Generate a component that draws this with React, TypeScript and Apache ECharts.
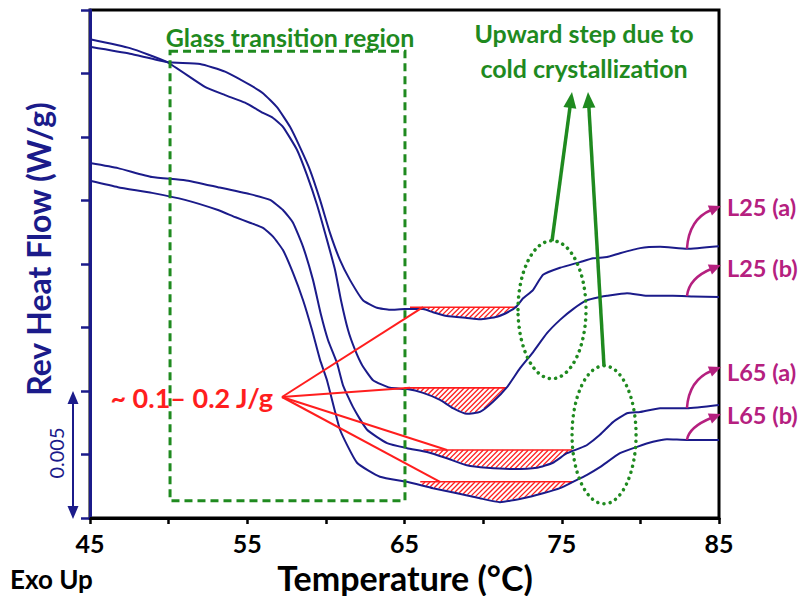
import React, { useEffect, useRef } from "react";
import * as echarts from "echarts";

const NAVY = "#1b1b8a";
const GREEN = "#1f8a1f";
const RED = "#ff1e1e";
const MAGENTA = "#b5207f";
const FONT = "Lato";

const xLabelTicks = [45, 55, 65, 75, 85];

// Curves: [temperature (°C), relative heat flow (axis units)]
const L25a = [[45.0,7.42],[47.54,7.31],[49.90,7.18],[52.0,7.15],[53.59,7.03],[55.17,6.82],[56.0,6.69],[56.89,6.47],[57.72,6.16],[58.35,5.84],[58.99,5.48],[59.63,5.01],[60.26,4.49],[60.90,4.06],[61.53,3.75],[62.36,3.43],[63.25,3.31],[64.08,3.28],[65.03,3.29],[66.18,3.29],[66.81,3.24],[67.70,3.18],[68.97,3.15],[69.80,3.13],[70.88,3.17],[71.71,3.26],[72.15,3.34],[72.54,3.46],[73.17,3.59],[73.81,3.83],[74.89,3.94],[76.16,4.03],[76.99,4.09],[77.88,4.11],[78.70,4.17],[79.98,4.25],[81.25,4.27],[82.96,4.24],[85.0,4.28]];
const L25b = [[45.0,7.54],[47.54,7.40],[49.90,7.18],[52.31,6.79],[53.59,6.66],[54.86,6.54],[56.0,6.38],[56.64,6.30],[57.27,6.16],[58.16,5.80],[58.80,5.40],[59.44,4.93],[60.07,4.38],[60.58,3.91],[60.96,3.43],[61.41,2.96],[61.85,2.65],[62.30,2.41],[63.0,2.17],[64.08,2.05],[65.16,2.03],[66.18,1.97],[67.26,1.86],[68.08,1.73],[68.97,1.64],[69.80,1.67],[70.63,1.83],[71.52,2.06],[72.35,2.36],[73.17,2.61],[74.06,2.91],[74.89,3.12],[75.72,3.29],[76.61,3.43],[77.43,3.48],[77.88,3.50],[79.15,3.54],[80.42,3.50],[82.07,3.50],[83.35,3.49],[85.0,3.48]];
const L65a = [[45.0,5.59],[46.78,5.51],[48.94,5.37],[51.04,5.32],[53.14,5.21],[55.17,5.10],[56.45,5.01],[57.27,4.85],[57.91,4.65],[58.55,4.27],[59.18,3.75],[59.69,3.20],[60.14,2.80],[60.71,2.44],[61.09,2.09],[61.72,1.75],[62.62,1.39],[63.89,1.18],[65.16,1.10],[66.43,1.04],[67.70,0.94],[68.97,0.83],[70.25,0.79],[71.90,0.77],[73.43,0.79],[74.44,0.87],[75.33,1.02],[76.16,1.10],[76.61,1.15],[77.43,1.31],[78.26,1.51],[79.15,1.65],[79.98,1.67],[81.25,1.73],[82.96,1.73],[85.0,1.78]];
const L65b = [[45.0,5.31],[46.78,5.21],[48.94,5.12],[51.04,5.01],[53.14,4.85],[54.22,4.74],[55.17,4.65],[56.0,4.57],[56.64,4.43],[57.27,4.22],[57.91,3.86],[58.55,3.43],[59.12,2.96],[59.63,2.49],[60.07,2.17],[60.90,1.39],[61.98,0.87],[63.44,0.65],[65.16,0.57],[66.81,0.47],[68.34,0.39],[69.80,0.31],[71.07,0.25],[72.54,0.31],[73.81,0.39],[74.89,0.47],[75.72,0.57],[76.61,0.68],[77.43,0.80],[78.70,1.02],[79.79,1.12],[80.80,1.20],[81.69,1.24],[82.96,1.23],[85.0,1.23]];

const curveNames = ["L25 (a)", "L25 (b)", "L65 (a)", "L65 (b)"];
const curveData = [L25a, L25b, L65a, L65b];

// Hatched (enthalpy) regions: baseline level, temperature span, pointer temperature
const hatchCurve = [0, 1, 2, 3];
const hatchBase = [3.32, 2.05, 1.07, 0.57];
const hatchFrom = [65.35, 65.0, 66.2, 66.0];
const hatchTo = [72.15, 71.45, 75.65, 75.72];
const hatchPointer = [66.18, 65.35, 67.7, 67.26];

const labelY = [207, 268, 372, 415];
const labelTipY = [206, 265, 367, 414];

function interp(curve: number[][], t: number) {
  for (let i = 0; i < curve.length - 1; i++) {
    const a = curve[i], b = curve[i + 1];
    if (t >= a[0] && t <= b[0]) {
      const f = (t - a[0]) / (b[0] - a[0]);
      return a[1] + f * (b[1] - a[1]);
    }
  }
  return curve[curve.length - 1][1];
}

function head(tx: number, ty: number, fx: number, fy: number, len: number, hw: number, color: string) {
  const dx = tx - fx, dy = ty - fy;
  const d = Math.hypot(dx, dy);
  const ux = dx / d, uy = dy / d;
  const bx = tx - ux * len, by = ty - uy * len;
  return {
    type: "polygon",
    z: 20,
    shape: { points: [[tx, ty], [bx - uy * hw, by + ux * hw], [bx + uy * hw, by - ux * hw]] },
    style: { fill: color },
  };
}

function text(x: number, y: number, s: string, size: number, color: string, align = "center", weight = "bold", rotation = 0) {
  return {
    type: "text",
    x,
    y,
    rotation,
    z: 20,
    style: {
      text: s,
      fill: color,
      fontSize: size,
      fontWeight: weight,
      fontFamily: FONT,
      align,
      textAlign: align,
      verticalAlign: "middle",
      textVerticalAlign: "middle",
    },
  };
}

function renderHatch(params: any, api: any) {
  const i = params.dataIndex;
  const curve = curveData[hatchCurve[i]];
  const pts = curve.map((p) => api.coord(p));
  const s = api.coord([hatchFrom[i], hatchBase[i]]);
  const e = api.coord([hatchTo[i], hatchBase[i]]);
  const x1 = s[0], x2 = e[0], by = s[1];
  const yAt = (x: number) => {
    for (let k = 0; k < pts.length - 1; k++) {
      const a = pts[k], b = pts[k + 1];
      if (x >= a[0] && x <= b[0]) return a[1] + ((x - a[0]) / (b[0] - a[0])) * (b[1] - a[1]);
    }
    return pts[pts.length - 1][1];
  };
  let maxY = by;
  for (let x = x1; x <= x2; x += 0.5) maxY = Math.max(maxY, yAt(x));
  const children: any[] = [];
  const step = 5;
  for (let c = x1 + by; c <= x2 + maxY; c += step) {
    let st: number[] | null = null;
    let last: number[] | null = null;
    for (let x = x1; x <= x2; x += 0.4) {
      const y = c - x;
      const inside = y >= by && y <= yAt(x) - 0.5;
      if (inside) {
        if (!st) st = [x, y];
        last = [x, y];
      } else if (st && last) {
        children.push({ type: "line", shape: { x1: st[0], y1: st[1], x2: last[0], y2: last[1] }, style: { stroke: RED, lineWidth: 1.3 } });
        st = null;
      }
    }
    if (st && last) children.push({ type: "line", shape: { x1: st[0], y1: st[1], x2: last[0], y2: last[1] }, style: { stroke: RED, lineWidth: 1.3 } });
  }
  children.push({ type: "line", shape: { x1, y1: by, x2, y2: by }, style: { stroke: RED, lineWidth: 1.6 } });
  return { type: "group", children };
}

const option: any = {
  animation: false,
  grid: { left: 90, right: 82, top: 10, bottom: 78, show: true, borderColor: "#000", borderWidth: 3 },
  xAxis: {
    type: "value",
    min: 45,
    max: 85,
    interval: 5,
    axisLine: { show: true, lineStyle: { color: "#000", width: 3 } },
    axisTick: { show: true, inside: false, length: 6, lineStyle: { color: "#000", width: 2.5 } },
    axisLabel: {
      formatter: (v: number) => (xLabelTicks.includes(v) ? String(v) : ""),
      color: "#000",
      fontSize: 25,
      fontWeight: "bold",
      fontFamily: FONT,
      margin: 12,
    },
    splitLine: { show: false },
  },
  yAxis: {
    type: "value",
    min: 0,
    max: 8,
    interval: 1,
    axisLine: { show: true, lineStyle: { color: NAVY, width: 3 } },
    axisTick: { show: true, inside: false, length: 9, lineStyle: { color: NAVY, width: 2.5 } },
    axisLabel: { show: false },
    splitLine: { show: false },
  },
  series: [
    ...curveData.map((d, i) => ({
      name: curveNames[i],
      type: "line",
      data: d,
      symbol: "none",
      showSymbol: false,
      smooth: 0.15,
      z: 3,
      lineStyle: { color: NAVY, width: 2 },
    })),
    {
      type: "custom",
      data: hatchFrom.map((f, i) => [f, hatchBase[i]]),
      renderItem: renderHatch,
      z: 2,
      silent: true,
    },
  ],
};

export default function App() {
  const ref = useRef<HTMLDivElement>(null);
  useEffect(() => {
    document.body.style.margin = "0";
    const chart = echarts.init(ref.current!, null, { renderer: "svg" });
    chart.setOption(option);
    const px = (t: number, v: number) => chart.convertToPixel({ gridIndex: 0 }, [t, v]) as number[];

    const g: any[] = [];
    // Green dashed glass-transition box
    const r1 = px(50.09, 7.35);
    const r2 = px(65.03, 0.27);
    g.push({
      type: "rect",
      z: 5,
      shape: { x: r1[0], y: r1[1], width: r2[0] - r1[0], height: r2[1] - r1[1] },
      style: { fill: "none", stroke: GREEN, lineWidth: 3, lineDash: [8, 5] },
    });
    g.push(text(290, 37, "Glass transition region", 25, GREEN));
    g.push(text(584, 33, "Upward step due to", 25, GREEN));
    g.push(text(584, 68, "cold crystallization", 25, GREEN));

    // Dotted ellipses
    const ell = [
      { c: px(74.38, 3.28), rx: 34, ry: 69 },
      { c: px(77.69, 1.31), rx: 32, ry: 69 },
    ];
    ell.forEach((e) =>
      g.push({
        type: "ellipse",
        z: 6,
        shape: { cx: e.c[0], cy: e.c[1], rx: e.rx, ry: e.ry },
        style: { fill: "none", stroke: GREEN, lineWidth: 3.5, lineDash: [0.1, 6.2], lineCap: "round" },
      })
    );
    // Green arrows
    const garrows = [
      { sx: 552, sy: 241, tx: 572, ty: 92 },
      { sx: 604, sy: 366, tx: 588, ty: 92 },
    ];
    garrows.forEach((a) => {
      const d = Math.hypot(a.tx - a.sx, a.ty - a.sy);
      const ex = a.tx - ((a.tx - a.sx) / d) * 12, ey = a.ty - ((a.ty - a.sy) / d) * 12;
      g.push({ type: "line", z: 20, shape: { x1: a.sx, y1: a.sy, x2: ex, y2: ey }, style: { stroke: GREEN, lineWidth: 3.5 } });
      g.push(head(a.tx, a.ty, a.sx, a.sy, 16, 6.5, GREEN));
    });

    // Red annotation
    const apex = [282, 397];
    hatchPointer.forEach((t, i) => {
      const p = px(t, hatchBase[i]);
      g.push({ type: "line", z: 8, shape: { x1: apex[0], y1: apex[1], x2: p[0], y2: p[1] }, style: { stroke: RED, lineWidth: 2 } });
    });
    g.push(text(273, 397, "~ 0.1\u2013 0.2 J/g", 27, RED, "right"));

    // Magenta curved arrows & labels
    curveData.forEach((c, i) => {
      const s = px(82.96, interp(c, 82.96));
      const tip = [721, labelTipY[i]];
      const cp = [s[0] + 2, tip[1] + 13];
      const d = Math.hypot(tip[0] - cp[0], tip[1] - cp[1]);
      const ex = tip[0] - ((tip[0] - cp[0]) / d) * 10, ey = tip[1] - ((tip[1] - cp[1]) / d) * 10;
      g.push({
        type: "bezierCurve",
        z: 20,
        shape: { x1: s[0], y1: s[1], x2: ex, y2: ey, cpx1: cp[0], cpy1: cp[1] },
        style: { stroke: MAGENTA, lineWidth: 2.5, fill: "none" },
      });
      g.push(head(tip[0], tip[1], cp[0], cp[1], 12, 5.5, MAGENTA));
      g.push(text(727, labelY[i], curveNames[i], 23.5, MAGENTA, "left"));
    });

    // Scale bar
    g.push({ type: "line", z: 20, shape: { x1: 73, y1: 402, x2: 73, y2: 508 }, style: { stroke: NAVY, lineWidth: 2 } });
    g.push(head(73, 391, 73, 450, 13, 5.5, NAVY));
    g.push(head(73, 519, 73, 450, 13, 5.5, NAVY));
    g.push(text(56, 453, "0.005", 20, NAVY, "center", "normal", Math.PI / 2));

    // Axis names
    g.push(text(38, 249, "Rev Heat Flow (W/g)", 32, NAVY, "center", "bold", Math.PI / 2));
    g.push(text(405, 577, "Temperature (\u00B0C)", 34, "#000", "center"));
    g.push(text(10, 579, "Exo Up", 26, "#000", "left"));

    chart.setOption({ graphic: { elements: g } });
    return () => chart.dispose();
  }, []);
  return <div ref={ref} style={{ width: 801, height: 596 }} />;
}
